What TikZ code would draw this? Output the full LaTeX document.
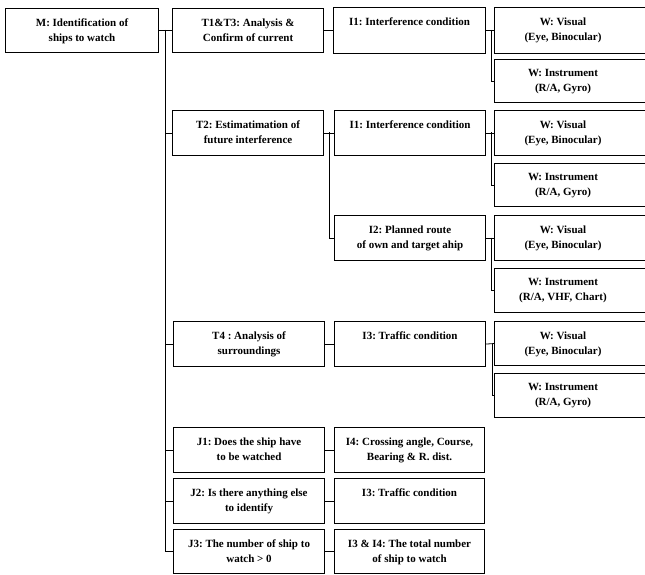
\documentclass[tikz,border=0pt]{standalone}
\usepackage{fontspec}
\setmainfont{Liberation Serif}
\frenchspacing
\newcommand\mybx[6]{%
  \node[box,minimum width={(#4-#2)*1pt},minimum height={(#5-#3)*1pt},anchor=north west] (#1) at (#2,#3) {};
  \node[txt] (#1t) at ([yshift=-10.5pt]#1.north) {#6};}
\newcommand\mywbx[4]{%
  \node[box,minimum width=170pt,minimum height={(#3-#2)*1pt},anchor=north west] (#1) at (494,#2) {};
  \node[txt] (#1t) at (563,#2+10.5) {#4};}
\begin{document}
\begin{tikzpicture}[x=1pt,y=-1pt,
  box/.style={draw,line width=1.1pt,inner sep=0pt},
  txt/.style={anchor=north,align=center,inner sep=0pt,font=\bfseries\fontsize{11}{15}\selectfont},
  conn/.style={line width=0.8pt}]
\useasboundingbox (0,0) rectangle (645,575);
\clip (0,0) rectangle (645,575);
% main
\mybx{M}{5}{8}{158}{52}{M: Identification of\\ships to watch}
% T / J column
\mybx{T1}{172}{8}{323}{52}{T1\&T3: Analysis \&\\Confirm of current}
\mybx{T2}{172}{110}{323}{155}{T2: Estimatimation of\\future interference}
\mybx{T4}{173}{321}{324}{366}{T4 : Analysis of\\surroundings}
\mybx{J1}{173}{427}{324}{472}{J1: Does the ship have\\to be watched}
\mybx{J2}{173}{478}{324}{523}{J2: Is there anything else\\to identify}
\mybx{J3}{173}{529}{324}{573}{J3: The number of ship to\\watch > 0}
% I column
\mybx{Ia}{333}{7}{485}{53}{I1: Interference condition}
\mybx{Ib}{334}{110}{485}{155}{I1: Interference condition}
\mybx{Ic}{334}{215}{485}{260}{I2: Planned route\\of own and target ahip}
\mybx{Id}{334}{321}{485}{366}{I3: Traffic condition}
\mybx{Ie}{334}{427}{484}{472}{I4: Crossing angle, Course,\\Bearing \& R. dist.}
\mybx{If}{334}{478}{484}{523}{I3: Traffic condition}
\mybx{Ig}{334}{529}{484}{573}{I3 \& I4: The total number\\of ship to watch}
% W column
\mywbx{Wva}{7}{53}{W: Visual\\(Eye, Binocular)}
\mywbx{Wia}{59}{102}{W: Instrument\\(R/A, Gyro)}
\mywbx{Wvb}{110}{155}{W: Visual\\(Eye, Binocular)}
\mywbx{Wib}{163}{206}{W: Instrument\\(R/A, Gyro)}
\mywbx{Wvc}{215}{260}{W: Visual\\(Eye, Binocular)}
\mywbx{Wic}{268}{312}{W: Instrument\\(R/A, VHF, Chart)}
\mywbx{Wvd}{321}{365}{W: Visual\\(Eye, Binocular)}
\mywbx{Wid}{373}{417}{W: Instrument\\(R/A, Gyro)}
% connectors
\coordinate (trk) at (165,30);
\draw[conn] (M.east) -- (T1.west);
\draw[conn] (trk) |- (J3.west);
\foreach \n in {T2,T4,J1,J2} \draw[conn] (trk |- \n.west) -- (\n.west);
\draw[conn] (T1.east) -- (Ia.west);
\draw[conn] (T2.east) -- (Ib.west);
\coordinate (b2) at (329,132.5);
\draw[conn] (b2) |- (Ic.west);
\draw[conn] (T4.east) -- (Id.west);
\draw[conn] (J1.east) -- (Ie.west);
\draw[conn] (J2.east) -- (If.west);
\draw[conn] (J3.east) -- (Ig.west);
\coordinate (wa) at (491,30);
\coordinate (wb) at (491,132.5);
\coordinate (wc) at (491,237.5);
\coordinate (wd) at (492,343.5);
\draw[conn] (Ia.east) -- (Wva.west);
\draw[conn] (wa) |- (Wia.west);
\draw[conn] (Ib.east) -- (Wvb.west);
\draw[conn] (wb) |- (Wib.west);
\draw[conn] (Ic.east) -- (Wvc.west);
\draw[conn] (wc) |- (Wic.west);
\draw[conn] (Id.east) -- (Wvd.west);
\draw[conn] (wd) |- (Wid.west);
\end{tikzpicture}
\end{document}
